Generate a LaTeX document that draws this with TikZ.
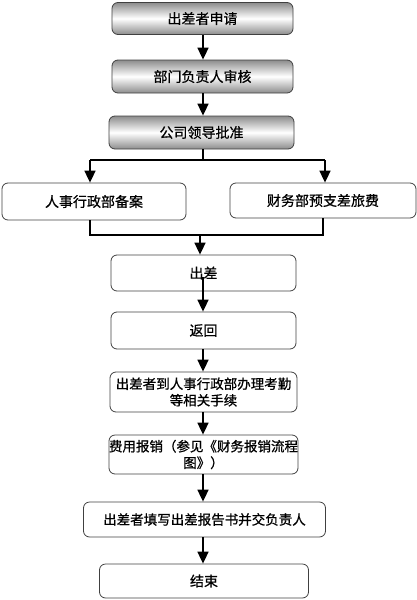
\documentclass[tikz,border=0pt]{standalone}
\usepackage{fontspec}
\newfontfamily\cjk[FakeBold=0.8]{Noto Sans CJK SC}
\usetikzlibrary{arrows.meta}
\begin{document}
\begin{tikzpicture}[x=1pt,y=-1pt,
  box/.style={draw=black!75,line width=0.8pt,rounded corners=6pt,rectangle,
    inner sep=0pt,align=center,font=\cjk\fontsize{14}{17}\selectfont},
  shadebox/.style={box,top color=black!45,bottom color=black!45,middle color=white},
  small/.style={font=\cjk\fontsize{13.5}{16.5}\selectfont},
  conn/.style={line width=1.7pt,-{Triangle[length=12pt,width=11pt]}},
  plain/.style={line width=1.7pt}]
\useasboundingbox (0,0) rectangle (417,600);
\node[shadebox,minimum width=181pt,minimum height=32pt] (b1) at (202.5,18.5) {出差者申请};
\node[shadebox,minimum width=181pt,minimum height=33pt] (b2) at (202.5,76.5) {部门负责人审核};
\node[shadebox,minimum width=185pt,minimum height=33pt] (b3) at (201.5,132.5) {公司领导批准};
\node[box,minimum width=184pt,minimum height=37pt] (b4) at (94,201.5) {人事行政部备案};
\node[box,minimum width=186pt,minimum height=35pt] (b5) at (323,200.5) {财务部预支差旅费};
\node[box,minimum width=185pt,minimum height=36pt] (b6) at (203.5,273) {出差};
\node[box,minimum width=185pt,minimum height=37pt] (b7) at (203.5,330.5) {返回};
\node[box,small,minimum width=187pt,minimum height=40pt] (b8) at (203.5,392) {出差者到人事行政部办理考勤\\等相关手续};
\node[box,small,minimum width=187pt,minimum height=39pt] (b9) at (203.5,454.5) {费用报销（参见《财务报销流程\\图》）};
\node[box,small,minimum width=242pt,minimum height=35pt] (b10) at (204.5,519.5) {出差者填写出差报告书并交负责人};
\node[box,minimum width=209pt,minimum height=34pt] (b11) at (204,581) {结束};
% coordinates for junctions
\coordinate (j1) at (203,160);
\coordinate (j1l) at (90,160);
\coordinate (j1r) at (325,160);
\coordinate (j2l) at (90,235);
\coordinate (j2r) at (323,235);
\coordinate (j2) at (200,235);
\coordinate (s6) at (203,277);
\draw[conn] (b1.south -| j1) -- (b2.north -| j1);
\draw[conn] (b2.south -| j1) -- (b3.north -| j1);
\draw[plain] (b3.south -| j1) -- (j1);
\draw[plain] (j1l) -- (j1r);
\draw[conn] (j1l) -- (b4.north -| j1l);
\draw[conn] (j1r) -- (b5.north -| j1r);
\draw[plain] (b4.south -| j2l) -- (j2l) -- (j2r) -- (b5.south -| j2r);
\draw[conn] (j2) -- (b6.north -| j2);
\draw[conn] (s6) -- (b7.north -| s6);
\draw[conn] (b7.south -| s6) -- (b8.north -| s6);
\draw[conn] (b8.south -| s6) -- (b9.north -| s6);
\draw[conn] (b9.south -| s6) -- (b10.north -| s6);
\draw[conn] (b10.south -| s6) -- (b11.north -| s6);
\end{tikzpicture}
\end{document}
